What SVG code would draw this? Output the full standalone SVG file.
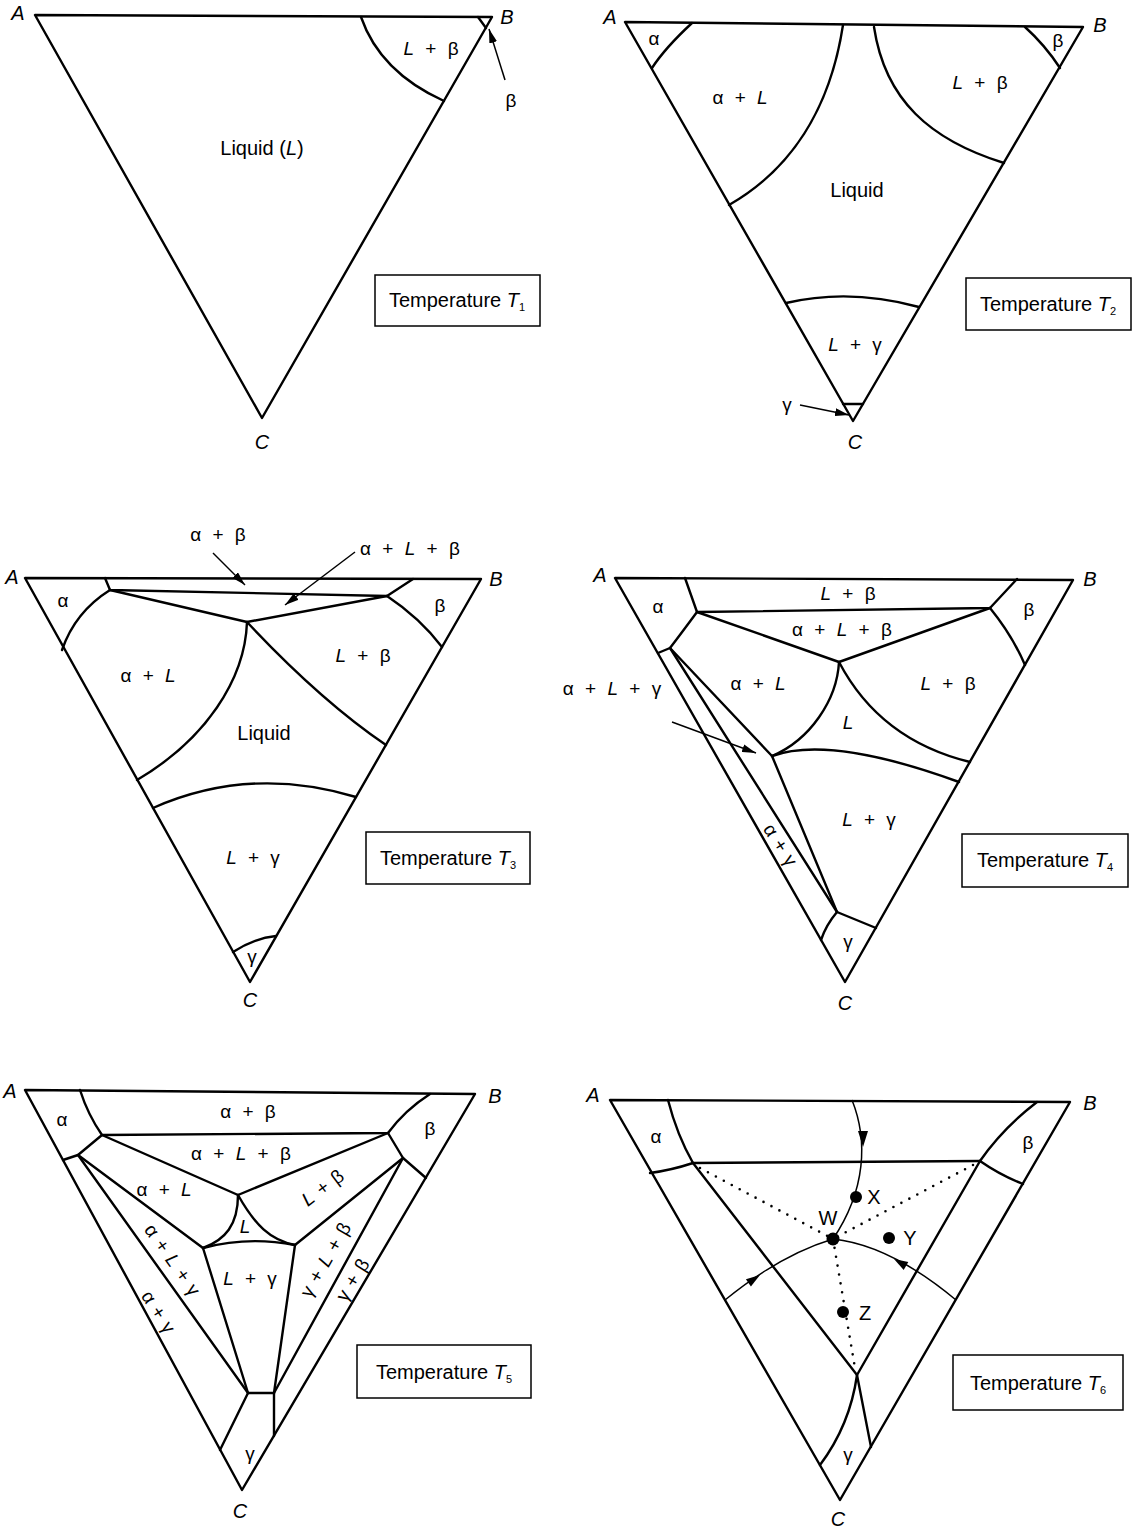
<svg xmlns="http://www.w3.org/2000/svg" width="1138" height="1528" viewBox="0 0 1138 1528">
<style>
.e{fill:none;stroke:#000;stroke-width:2.4;stroke-linejoin:round;stroke-linecap:round}
.a{fill:none;stroke:#000;stroke-width:1.5}
.d{fill:none;stroke:#000;stroke-width:2.6;stroke-linecap:round;stroke-dasharray:0 9}
.box{fill:#fff;stroke:#000;stroke-width:1.5}
text{font-family:"Liberation Sans",Arial,sans-serif;font-size:19px;fill:#000;text-anchor:middle;word-spacing:6px}
.v{font-style:italic;font-size:20px}
.t{font-size:20px;word-spacing:0}
.n{word-spacing:0;font-size:20px}
.r{word-spacing:2px}
.i{font-style:italic}
.s{font-size:11px}
</style>
<defs>
<marker id="ah" viewBox="0 0 14 8" refX="14" refY="4" markerWidth="14" markerHeight="8" markerUnits="userSpaceOnUse" orient="auto"><path d="M0,0 L14,4 L0,8 z"/></marker>
</defs>
<rect width="1138" height="1528" fill="#fff"/>

<!-- Temperature T1 -->
<g id="panel-t1">
<polygon class="e" points="35,15 492,17 262,418"/>
<path class="e" d="M361,17 Q380,72 444,101"/>
<path class="e" d="M478,17 L486,28"/>
<line class="a" x1="505" y1="80" x2="489" y2="29" marker-end="url(#ah)"/>
<text x="431" y="55"><tspan class="i">L</tspan> + β</text>
<text x="511" y="107">β</text>
<text class="n" x="262" y="155">Liquid (<tspan class="i">L</tspan>)</text>
<text class="v" x="18" y="20">A</text>
<text class="v" x="507" y="24">B</text>
<text class="v" x="262" y="449">C</text>
<rect class="box" x="375" y="275" width="165" height="51"/>
<text class="t" x="457" y="307">Temperature <tspan class="i">T</tspan><tspan class="s" dy="4">1</tspan></text>
</g>

<!-- Temperature T2 -->
<g id="panel-t2">
<polygon class="e" points="625,22 1083,27 853,421"/>
<path class="e" d="M692,23 Q665,48 652,68"/>
<path class="e" d="M843,25 C830,110 790,170 729,205"/>
<path class="e" d="M874,27 C885,100 930,140 1004,163"/>
<path class="e" d="M1025,27 Q1045,45 1060,68"/>
<path class="e" d="M786,303 Q850,288 919,307"/>
<path class="e" d="M843,404 L863,404"/>
<line class="a" x1="800" y1="405" x2="849" y2="415" marker-end="url(#ah)"/>
<text x="654" y="45">α</text>
<text x="1058" y="47">β</text>
<text x="740" y="104">α + <tspan class="i">L</tspan></text>
<text x="980" y="89"><tspan class="i">L</tspan> + β</text>
<text class="n" x="857" y="197">Liquid</text>
<text x="855" y="351"><tspan class="i">L</tspan> + γ</text>
<text x="787" y="411">γ</text>
<text class="v" x="610" y="24">A</text>
<text class="v" x="1100" y="32">B</text>
<text class="v" x="855" y="449">C</text>
<rect class="box" x="966" y="278" width="165" height="52"/>
<text class="t" x="1048" y="311">Temperature <tspan class="i">T</tspan><tspan class="s" dy="4">2</tspan></text>
</g>

<!-- Temperature T3 -->
<g id="panel-t3">
<polygon class="e" points="25,578 481,579 250,982"/>
<path class="e" d="M105,578 L110,590 L387,596 L413,579"/>
<path class="e" d="M110,590 L247,622 L387,596"/>
<path class="e" d="M110,590 Q75,612 62,650"/>
<path class="e" d="M387,596 Q420,618 442,647"/>
<path class="e" d="M247,622 C245,680 205,740 137,780"/>
<path class="e" d="M247,622 Q320,700 386,745"/>
<path class="e" d="M153,808 Q250,765 356,797"/>
<path class="e" d="M233,952 Q255,938 276,936"/>
<line class="a" x1="213" y1="553" x2="245" y2="585" marker-end="url(#ah)"/>
<line class="a" x1="355" y1="552" x2="285" y2="605" marker-end="url(#ah)"/>
<text x="218" y="541">α + β</text>
<text x="410" y="555">α + <tspan class="i">L</tspan> + β</text>
<text x="63" y="607">α</text>
<text x="440" y="612">β</text>
<text x="148" y="682">α + <tspan class="i">L</tspan></text>
<text x="363" y="662"><tspan class="i">L</tspan> + β</text>
<text class="n" x="264" y="740">Liquid</text>
<text x="253" y="864"><tspan class="i">L</tspan> + γ</text>
<text x="252" y="963">γ</text>
<text class="v" x="12" y="584">A</text>
<text class="v" x="496" y="586">B</text>
<text class="v" x="250" y="1007">C</text>
<rect class="box" x="366" y="832" width="164" height="52"/>
<text class="t" x="448" y="865">Temperature <tspan class="i">T</tspan><tspan class="s" dy="4">3</tspan></text>
</g>

<!-- Temperature T4 -->
<g id="panel-t4">
<polygon class="e" points="615,578 1073,580 845,982"/>
<path class="e" d="M685,578 L697,612 L990,608 L1017,579"/>
<path class="e" d="M697,612 L839,662 L990,608"/>
<path class="e" d="M697,612 Q680,635 670,648 L658,653"/>
<path class="e" d="M990,608 Q1012,635 1025,665"/>
<path class="e" d="M670,648 L837,912"/>
<path class="e" d="M670,648 L772,756 L837,912"/>
<path class="e" d="M839,662 C837,700 810,740 772,756"/>
<path class="e" d="M839,662 Q880,740 970,762"/>
<path class="e" d="M772,756 Q830,735 959,782"/>
<path class="e" d="M837,912 L876,928"/>
<path class="e" d="M837,912 Q826,925 821,940"/>
<line class="a" x1="672" y1="722" x2="756" y2="753" marker-end="url(#ah)"/>
<text x="848" y="600"><tspan class="i">L</tspan> + β</text>
<text x="842" y="636">α + <tspan class="i">L</tspan> + β</text>
<text x="658" y="613">α</text>
<text x="1029" y="616">β</text>
<text x="758" y="690">α + <tspan class="i">L</tspan></text>
<text x="948" y="690"><tspan class="i">L</tspan> + β</text>
<text x="848" y="729" class="i">L</text>
<text x="869" y="826"><tspan class="i">L</tspan> + γ</text>
<text x="848" y="948">γ</text>
<text x="612" y="695">α + <tspan class="i">L</tspan> + γ</text>
<text class="r" transform="translate(780,845) rotate(57)" x="0" y="6">α + γ</text>
<text class="v" x="600" y="582">A</text>
<text class="v" x="1090" y="586">B</text>
<text class="v" x="845" y="1010">C</text>
<rect class="box" x="962" y="834" width="166" height="53"/>
<text class="t" x="1045" y="867">Temperature <tspan class="i">T</tspan><tspan class="s" dy="4">4</tspan></text>
</g>

<!-- Temperature T5 -->
<g id="panel-t5">
<polygon class="e" points="25,1090 475,1094 242,1490"/>
<path class="e" d="M80,1090 Q88,1115 102,1135 L388,1133 Q405,1110 430,1094"/>
<path class="e" d="M102,1135 L238,1195 L388,1133"/>
<path class="e" d="M102,1135 L78,1155 L63,1160"/>
<path class="e" d="M388,1133 L403,1158 L426,1178"/>
<path class="e" d="M78,1155 L203,1248"/>
<path class="e" d="M403,1158 L295,1245"/>
<path class="e" d="M238,1195 C238,1225 225,1240 203,1248"/>
<path class="e" d="M238,1195 C255,1225 270,1240 295,1245"/>
<path class="e" d="M203,1248 Q248,1236 295,1245"/>
<path class="e" d="M78,1155 L248,1393 L274,1393 L403,1158"/>
<path class="e" d="M203,1248 L248,1393"/>
<path class="e" d="M295,1245 L274,1393"/>
<path class="e" d="M248,1393 L220,1450"/>
<path class="e" d="M274,1393 L274,1436"/>
<text x="248" y="1118">α + β</text>
<text x="241" y="1160">α + <tspan class="i">L</tspan> + β</text>
<text x="62" y="1126">α</text>
<text x="430" y="1135">β</text>
<text x="164" y="1196">α + <tspan class="i">L</tspan></text>
<text x="245" y="1233" class="i">L</text>
<text x="250" y="1285"><tspan class="i">L</tspan> + γ</text>
<text x="250" y="1460">γ</text>
<text class="r" transform="translate(323,1188) rotate(-37)" x="0" y="6"><tspan class="i">L</tspan> + β</text>
<text class="r" transform="translate(172,1260) rotate(55)" x="0" y="6">α + <tspan class="i">L</tspan> + γ</text>
<text class="r" transform="translate(158,1312) rotate(57)" x="0" y="6">α + γ</text>
<text class="r" transform="translate(326,1260) rotate(-60)" x="0" y="6">γ + <tspan class="i">L</tspan> + β</text>
<text class="r" transform="translate(353,1280) rotate(-58)" x="0" y="6">γ + β</text>
<text class="v" x="10" y="1098">A</text>
<text class="v" x="495" y="1103">B</text>
<text class="v" x="240" y="1518">C</text>
<rect class="box" x="357" y="1345" width="174" height="53"/>
<text class="t" x="444" y="1379">Temperature <tspan class="i">T</tspan><tspan class="s" dy="4">5</tspan></text>
</g>

<!-- Temperature T6 -->
<g id="panel-t6">
<polygon class="e" points="610,1100 1070,1102 840,1500"/>
<path class="e" d="M668,1100 Q677,1135 693,1163"/>
<path class="e" d="M650,1173 Q672,1170 693,1163"/>
<path class="e" d="M693,1163 L980,1161"/>
<path class="e" d="M980,1161 Q1003,1128 1037,1102"/>
<path class="e" d="M980,1161 Q1000,1175 1023,1184"/>
<path class="e" d="M693,1163 L857,1375 L980,1161"/>
<path class="e" d="M857,1375 Q850,1425 820,1465"/>
<path class="e" d="M857,1375 L871,1447"/>
<g id="connectors">
<path class="a" d="M725,1300 Q780,1255 833,1239 Q890,1245 956,1300"/>
<path class="a" d="M852,1100 C868,1140 866,1190 833,1239"/>
<polygon points="863,1147 858,1131 868,1131"/>
<polygon points="760,1275 750.9,1286.6 745.9,1279.2"/>
<polygon points="894,1259 908.3,1262.1 903.7,1269.9"/>
<path class="d" d="M700,1168 L833,1239"/>
<path class="d" d="M973,1165 L833,1239"/>
<path class="d" d="M833,1239 L855,1368"/>
</g>
<circle cx="856" cy="1197" r="6"/>
<circle cx="833" cy="1239" r="6.5"/>
<circle cx="889" cy="1238" r="6"/>
<circle cx="843" cy="1312" r="6"/>
<text class="n" x="874" y="1204">X</text>
<text class="n" x="828" y="1225">W</text>
<text class="n" x="910" y="1245">Y</text>
<text class="n" x="865" y="1320">Z</text>
<text x="656" y="1143">α</text>
<text x="1028" y="1149">β</text>
<text x="848" y="1461">γ</text>
<text class="v" x="593" y="1102">A</text>
<text class="v" x="1090" y="1110">B</text>
<text class="v" x="838" y="1526">C</text>
<rect class="box" x="953" y="1355" width="170" height="55"/>
<text class="t" x="1038" y="1390">Temperature <tspan class="i">T</tspan><tspan class="s" dy="4">6</tspan></text>
</g>
</svg>
